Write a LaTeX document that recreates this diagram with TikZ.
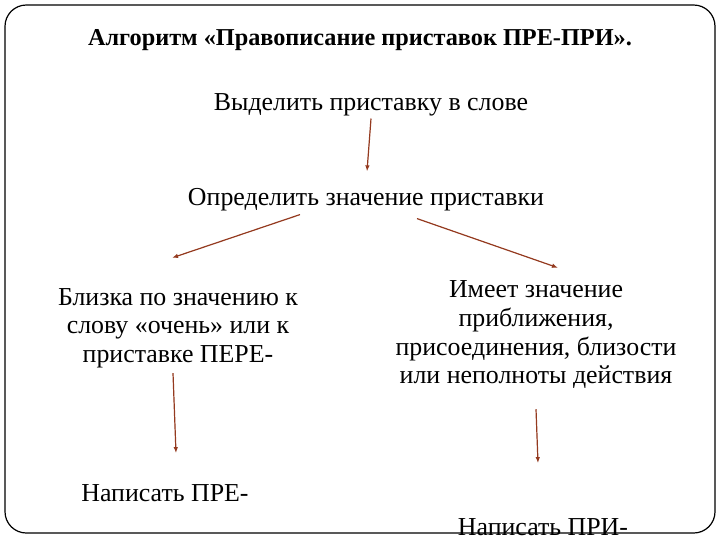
\documentclass[tikz,border=0pt]{standalone}
\usepackage{fontspec}
\setmainfont{Liberation Serif}
\usetikzlibrary{arrows.meta,positioning,calc}
\definecolor{rust}{HTML}{943A1F}

\begin{document}
\begin{tikzpicture}[x=0.75pt,y=-0.75pt,every node/.style={font=\fontsize{19.4}{21.5}\selectfont,align=center,inner sep=0pt},
  arr/.style={-{Latex[length=1.6mm,width=1.2mm]},draw=rust,fill=rust,line width=0.9pt}]
\useasboundingbox (0,0) rectangle (720,540);
\draw[line width=0.9pt,rounded corners=16pt] (5,5) rectangle (715,533);
\node[font=\fontsize{18.2}{21.5}\selectfont\bfseries] (title) at (360,40) {Алгоритм «Правописание приставок ПРЕ-ПРИ».};
\node (sel) at (371,105) {Выделить приставку в слове};
\node (def) at (366,200) {Определить значение приставки};
\node (near) at (178,328) {Близка по значению к\\слову «очень» или к\\приставке ПЕРЕ-};
\node (attach) at (536,335) {Имеет значение\\приближения,\\присоединения, близости\\или неполноты действия};
\node (pre) at (165,493) {Написать ПРЕ-};
\node (pri) at (543,527) {Написать ПРИ-};
\draw[arr] ($(sel.south)+(0,2)$) -- ($(def.north)+(1,-17)$);
\draw[arr] ($(def.south)+(-66,3)$) -- ($(near.north)+(-6,-30)$);
\draw[arr] ($(def.south)+(51,7)$) -- ($(attach.north)+(22,-13)$);
\draw[arr] ($(near.south)+(-5,5)$) -- ($(pre.north)+(11,-31)$);
\draw[arr] ($(attach.south)+(0,20)$) -- ($(pri.north)+(-5,-55)$);
\end{tikzpicture}
\end{document}
